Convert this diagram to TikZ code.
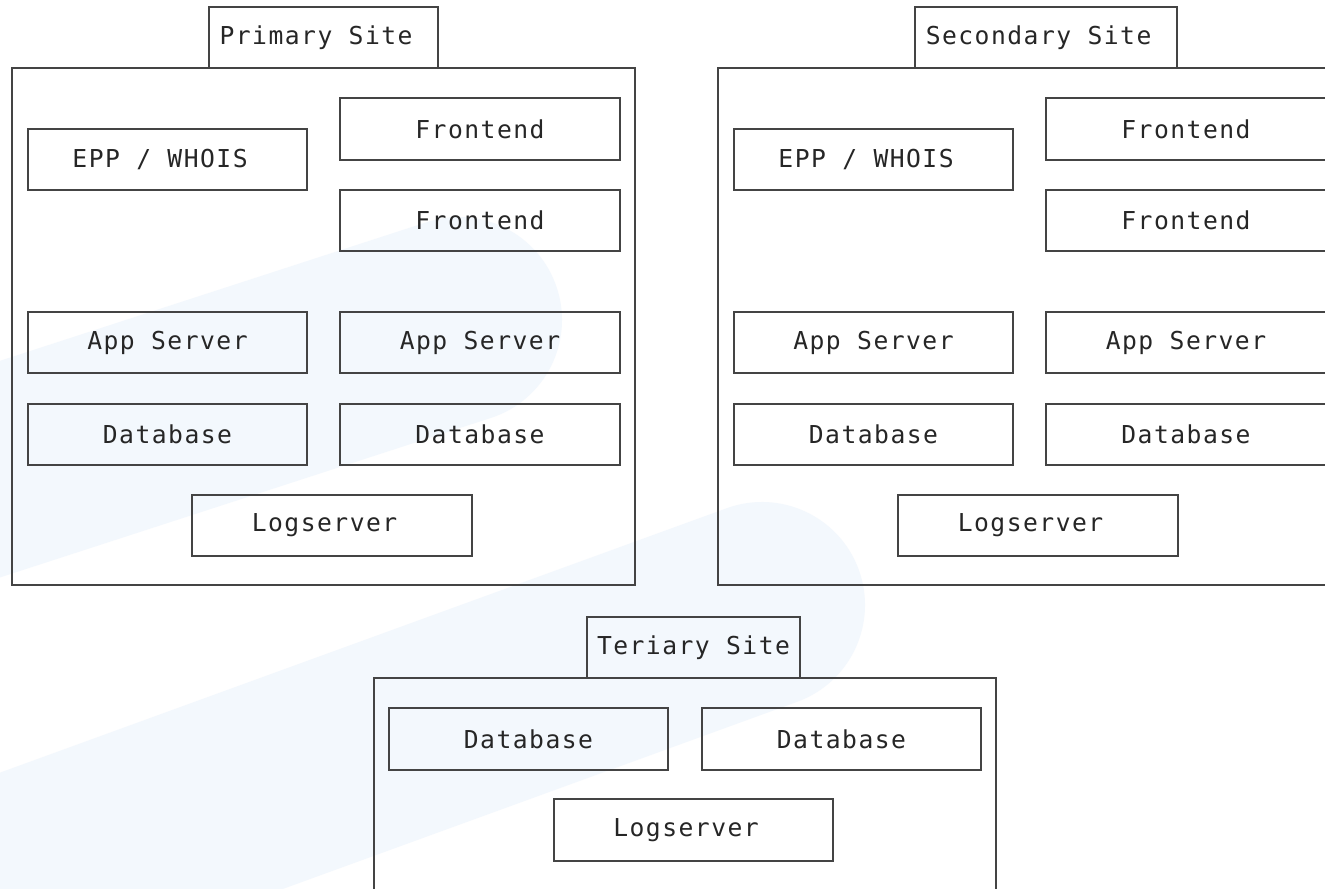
\documentclass[tikz,border=0pt]{standalone}
\usepackage{fontspec}
\setmonofont[LetterSpace=6]{DejaVu Sans Mono}
\definecolor{bandblue}{RGB}{243,248,253}
\definecolor{frame}{RGB}{68,68,68}
\begin{document}
\begin{tikzpicture}[x=0.75pt,y=-0.75pt,
    box/.style={draw=frame,line width=1.6pt,minimum width=209.6pt,minimum height=46pt,inner sep=0pt,
        font=\ttfamily\fontsize{18.5}{22}\selectfont,text=black!85},
    sitetab/.style={box,minimum width=#1,minimum height=45.75pt},
    site/.style={draw=frame,line width=1.6pt},
    band/.style={bandblue,line width=154.5pt,line cap=round}]
    \clip (0,0) rectangle (1325,889);
    \fill[white] (0,0) rectangle (1325,889);
    \draw[band] (-492,629) -- (459,320);
    \draw[band] (-178,947) -- (762,605);
    \draw[site] (12,68) rectangle (635,585);
    \draw[site] (718,68) rectangle (1341,585);
    \draw[site] (374,678) rectangle (996,905);
    \node[sitetab=171.75pt] (primary) at (323.5,37.5) {Primary Site\phantom{x}};
    \node[sitetab=196.5pt] (secondary) at (1046,37.5) {Secondary Site\phantom{x}};
    \node[sitetab=159.75pt] (tertiary) at (693.5,647.5) {Teriary Site};
    \node[box] (pepp) at (167.5,159.5) {EPP / WHOIS\phantom{x}};
    \node[box] (pfront1) at (480,129) {Frontend};
    \node[box] (pfront2) at (480,220.5) {Frontend};
    \node[box] (papp1) at (167.5,342.5) {App Server};
    \node[box] (papp2) at (480,342.5) {App Server};
    \node[box] (pdb1) at (167.5,434.5) {Database};
    \node[box] (pdb2) at (480,434.5) {Database};
    \node[box] (plog) at (332,525.5) {Logserver\phantom{x}};
    \node[box] (sepp) at (873.5,159.5) {EPP / WHOIS\phantom{x}};
    \node[box] (sfront1) at (1186,129) {Frontend};
    \node[box] (sfront2) at (1186,220.5) {Frontend};
    \node[box] (sapp1) at (873.5,342.5) {App Server};
    \node[box] (sapp2) at (1186,342.5) {App Server};
    \node[box] (sdb1) at (873.5,434.5) {Database};
    \node[box] (sdb2) at (1186,434.5) {Database};
    \node[box] (slog) at (1038,525.5) {Logserver\phantom{x}};
    \node[box] (tdb1) at (528.5,739) {Database};
    \node[box] (tdb2) at (841.5,739) {Database};
    \node[box] (tlog) at (693.5,830) {Logserver\phantom{x}};
\end{tikzpicture}
\end{document}
